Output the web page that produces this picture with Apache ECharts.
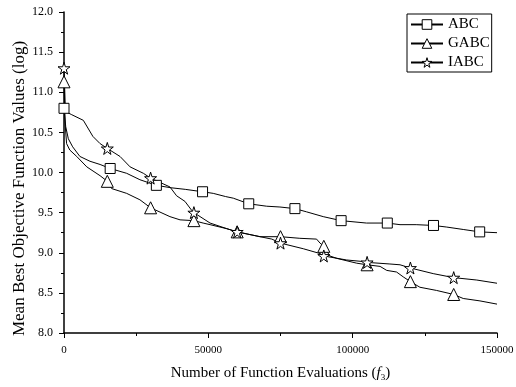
<!DOCTYPE html>
<html>
<head>
<meta charset="utf-8">
<script src="https://cdn.jsdelivr.net/npm/echarts@6/dist/echarts.min.js"></script>
<style>
  html, body { margin: 0; padding: 0; background: #fff; }
  #chart { width: 516px; height: 387px; }
</style>
</head>
<body>
<div id="chart"></div>
<script>
// curves: [evaluations, value]
const abcPts = [
  [0, 10.80], [600, 10.57], [1500, 10.42], [3000, 10.32], [5500, 10.20], [9000, 10.14],
  [12500, 10.10], [16000, 10.05], [21700, 9.99], [26300, 9.91], [32000, 9.84], [37000, 9.81],
  [42000, 9.79], [48000, 9.76], [51700, 9.74], [56000, 9.70], [58650, 9.68], [64000, 9.61],
  [70200, 9.58], [74800, 9.57], [80000, 9.55], [84000, 9.51], [89800, 9.45], [96000, 9.40],
  [104800, 9.37], [112000, 9.37], [116400, 9.35], [122000, 9.35], [128000, 9.34],
  [132600, 9.32], [138300, 9.29], [144000, 9.26], [150000, 9.25]
];
const gabcPts = [
  [0, 11.13], [400, 10.60], [900, 10.36], [2000, 10.28], [4400, 10.20], [7900, 10.07],
  [12500, 9.96], [15000, 9.89], [16500, 9.80], [21700, 9.74], [26300, 9.66], [30000, 9.56],
  [36700, 9.45], [40200, 9.41], [45000, 9.40], [48200, 9.37], [50600, 9.35], [56400, 9.30],
  [60000, 9.26], [67900, 9.20], [75000, 9.20], [81700, 9.18], [87500, 9.17], [88700, 9.12],
  [90000, 9.08], [92100, 8.96], [94500, 8.93], [101400, 8.87], [105000, 8.85], [109500, 8.83],
  [111800, 8.78], [115200, 8.76], [117500, 8.70], [120000, 8.64], [123300, 8.57],
  [129100, 8.53], [135000, 8.48], [138300, 8.43], [144100, 8.40], [150000, 8.36]
];
const iabcPts = [
  [0, 11.30], [500, 10.76], [2700, 10.72], [6700, 10.65], [10000, 10.45], [12500, 10.36],
  [15000, 10.30], [19400, 10.20], [22900, 10.07], [27500, 9.99], [30000, 9.93], [36700, 9.82],
  [39000, 9.71], [41900, 9.64], [44200, 9.53], [45000, 9.50], [50600, 9.37], [56400, 9.30],
  [60000, 9.26], [67900, 9.20], [72000, 9.17], [75000, 9.12], [82900, 9.05], [88700, 8.99],
  [90000, 8.96], [97900, 8.91], [103700, 8.89], [105000, 8.88], [112900, 8.86], [116400, 8.85],
  [120000, 8.81], [127900, 8.74], [135000, 8.69], [143000, 8.66], [150000, 8.62]
];
// where the markers sit
const abcMarks = [0, 16000, 32000, 48000, 64000, 80000, 96000, 112000, 128000, 144000];
const gabcMarks = [0, 15000, 30000, 45000, 60000, 75000, 90000, 105000, 120000, 135000];
const iabcMarks = [0, 15000, 30000, 45000, 60000, 75000, 90000, 105000, 120000, 135000];
const xTicks = [0, 50000, 100000, 150000];
const yTicks = [8.0, 8.5, 9.0, 9.5, 10.0, 10.5, 11.0, 11.5, 12.0];

const starPath = 'path://M50,0 L61,35 L98,35 L68,57 L79,91 L50,70 L21,91 L32,57 L2,35 L39,35 Z';
const serif = 'Liberation Serif';
const hollow = { color: '#fff', borderColor: '#000', borderWidth: 1 };

function withMarks(pts, marks) {
  return pts.map(p => marks.indexOf(p[0]) >= 0 ? { value: p } : { value: p, symbol: 'none' });
}

function makeSeries(name, pts, marks, symbol, size) {
  return {
    name: name,
    type: 'line',
    data: withMarks(pts, marks),
    symbol: symbol,
    symbolSize: size,
    showAllSymbol: true,
    lineStyle: { color: '#000', width: 1 },
    itemStyle: hollow,
    emphasis: { disabled: true },
    animation: false
  };
}

const chart = echarts.init(document.getElementById('chart'));
chart.setOption({
  backgroundColor: '#fff',
  textStyle: { fontFamily: serif },
  grid: { left: 64, right: 19, top: 12, bottom: 54, outerBoundsMode: 'none', containLabel: false },
  legend: {
    orient: 'vertical',
    left: 407,
    top: 14,
    padding: [3, 2, 2, 3],
    itemGap: 4,
    itemWidth: 32,
    itemHeight: 12,
    borderColor: '#000',
    borderWidth: 1,
    textStyle: { fontFamily: serif, fontSize: 15, color: '#000' },
    data: [
      { name: 'ABC', itemStyle: hollow },
      { name: 'GABC', itemStyle: hollow },
      { name: 'IABC', itemStyle: hollow }
    ]
  },
  xAxis: {
    type: 'value',
    min: 0, max: 150000, interval: 50000,
    name: 'Number of Function Evaluations ({i|f}{s|3})',
    nameLocation: 'middle',
    nameGap: 31,
    nameMoveOverlap: false,
    nameTextStyle: {
      fontFamily: serif, fontSize: 15, color: '#000',
      rich: {
        i: { fontFamily: serif, fontSize: 15, fontStyle: 'italic', color: '#000' },
        s: { fontFamily: serif, fontSize: 9, color: '#000', padding: [9, 0, 0, 0] }
      }
    },
    axisLine: { lineStyle: { color: '#000', width: 1.5 } },
    axisTick: { inside: false, length: 5, lineStyle: { color: '#000', width: 1 } },
    minorTick: { show: true, splitNumber: 2, length: 3, lineStyle: { color: '#000', width: 1 } },
    splitLine: { show: false },
    axisLabel: {
      fontFamily: serif, fontSize: 11, color: '#000', margin: 12,
      formatter: v => xTicks.indexOf(v) >= 0 ? String(v) : ''
    }
  },
  yAxis: {
    type: 'value',
    min: 8, max: 12, interval: 0.5,
    name: 'Mean Best Objective Function Values (log)',
    nameLocation: 'middle',
    nameGap: 36,
    nameMoveOverlap: false,
    nameTextStyle: { fontFamily: serif, fontSize: 17, color: '#000', padding: [0, 32, 0, 0] },
    axisLine: { show: true, lineStyle: { color: '#000', width: 1.5 } },
    axisTick: { show: true, inside: false, length: 5, lineStyle: { color: '#000', width: 1 } },
    minorTick: { show: true, splitNumber: 2, length: 3, lineStyle: { color: '#000', width: 1 } },
    splitLine: { show: false },
    axisLabel: {
      fontFamily: serif, fontSize: 12, color: '#000', margin: 11,
      formatter: v => yTicks.indexOf(v) >= 0 ? v.toFixed(1) : ''
    }
  },
  series: [
    makeSeries('ABC', abcPts, abcMarks, 'rect', 10),
    makeSeries('GABC', gabcPts, gabcMarks, 'triangle', 12),
    makeSeries('IABC', iabcPts, iabcMarks, starPath, 12)
  ]
});
</script>
</body>
</html>
